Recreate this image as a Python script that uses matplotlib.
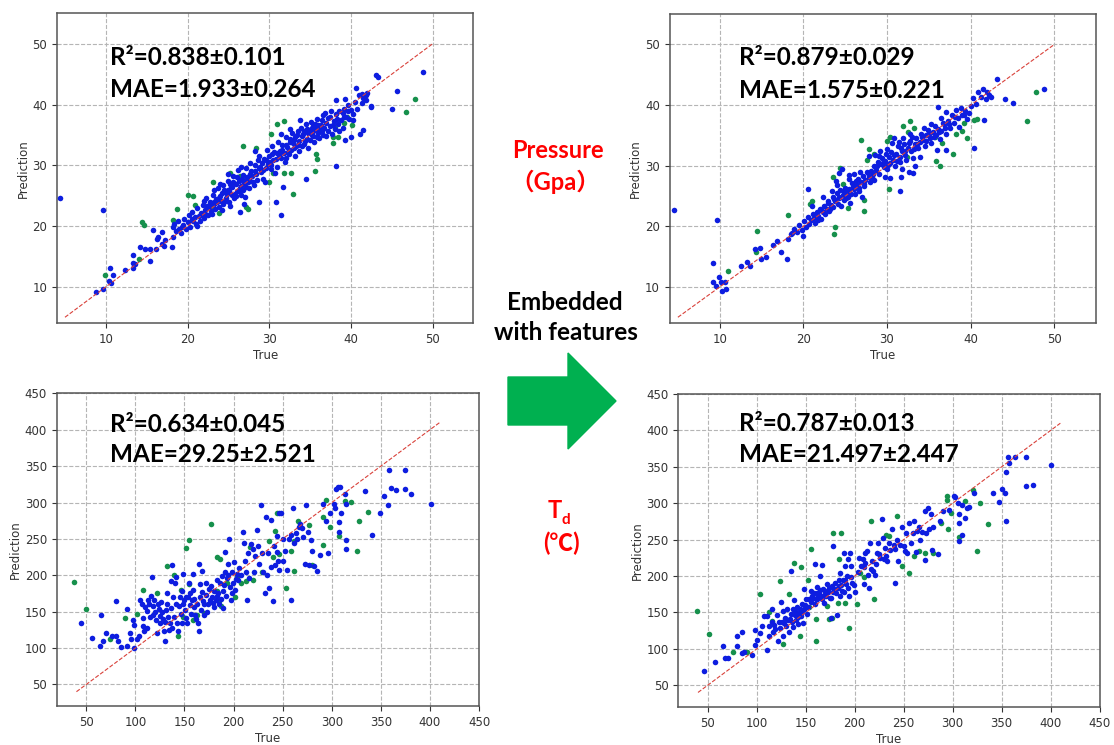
import numpy as np
import matplotlib.pyplot as plt
from matplotlib.patches import Polygon

plt.rcParams['font.family'] = ['DejaVu Sans']

BLUE = '#0d1de0'
GREEN = '#16904c'

# ---- pressure, baseline (top left) ----
tl_blue = [
    (4.4, 24.7), (9.6, 22.6), (8.8, 9.1), (9.7, 9.7), (10.5, 13.1), (10.4, 10.9), (10.9, 12.0), (10.6, 10.7),
    (12.4, 12.7), (13.3, 13.9), (13.3, 15.3), (13.6, 13.7), (13.3, 13.1), (14.2, 16.6), (14.8, 16.2), (15.4, 16.2),
    (15.4, 14.2), (15.8, 19.4), (16.4, 18.2), (16.3, 17.9), (16.1, 16.3), (16.9, 19.0), (16.9, 17.1), (17.1, 16.8),
    (17.3, 17.7), (18.1, 16.6), (18.2, 18.2),
    (43.1, 44.9), (43.3, 44.6), (48.8, 45.4), (45.6, 42.2), (45.0, 39.2), (42.4, 39.6), (40.6, 42.7), (41.4, 41.7),
    (41.9, 41.5), (41.5, 41.1), (39.3, 40.9), (38.2, 40.8), (41.5, 35.8), (41.1, 35.2), (40.0, 34.7), (39.3, 34.2),
    (38.2, 29.9), (34.5, 27.8), (31.7, 26.5), (31.5, 21.9), (30.8, 24.0), (28.8, 23.9), (26.4, 22.3), (25.2, 23.3),
    (18.2, 19.8), (18.4, 20.4), (18.6, 19.2), (18.8, 20.8), (19.0, 19.6), (19.2, 18.9), (19.4, 20.2), (19.6, 21.2),
    (19.8, 19.5), (20.0, 20.6), (20.2, 21.8), (20.3, 19.9), (20.5, 22.4), (20.7, 20.8), (20.9, 21.5), (21.0, 20.3),
    (21.2, 22.9), (21.4, 21.6), (21.5, 20.9), (21.7, 22.2), (21.9, 23.5), (22.0, 21.4), (22.2, 22.6), (22.3, 24.6),
    (22.5, 21.9), (22.6, 23.2), (22.8, 24.0), (22.9, 22.5), (23.1, 25.1), (23.2, 23.6), (23.4, 22.8), (23.5, 24.4),
    (23.7, 26.2), (23.8, 23.1), (24.0, 25.0), (24.1, 24.2), (24.3, 26.7), (24.4, 23.6), (24.6, 25.6), (24.7, 24.7),
    (24.9, 27.4), (25.0, 25.9), (25.1, 23.9), (25.3, 26.5), (25.4, 25.2), (25.6, 28.2), (25.7, 24.6), (25.9, 26.9),
    (26.0, 25.8), (26.2, 29.2), (26.3, 27.4), (26.5, 25.1), (26.6, 26.6), (26.8, 28.4), (26.9, 27.1), (27.0, 24.8),
    (27.2, 29.6), (27.3, 28.0), (27.5, 26.3), (27.6, 27.5), (27.8, 29.0), (27.9, 28.3), (28.1, 26.8), (28.2, 30.1),
    (28.4, 28.6), (28.5, 27.6), (28.7, 29.5), (28.8, 31.6), (29.0, 28.9), (29.1, 30.4), (29.3, 27.8), (29.4, 31.0),
    (29.6, 29.6), (29.7, 32.6), (29.9, 30.2), (30.0, 31.5), (30.2, 29.4), (30.3, 33.2), (30.5, 30.8), (30.6, 32.2),
    (30.8, 31.0), (31.0, 29.8), (31.1, 33.9), (31.3, 32.4), (31.4, 31.2), (31.6, 33.4), (31.8, 32.0), (31.9, 30.6),
    (32.1, 34.6), (32.2, 33.0), (32.4, 31.8), (32.5, 33.8), (32.7, 32.6), (32.8, 35.4), (33.0, 34.2), (33.1, 31.5),
    (33.3, 33.2), (33.4, 35.0), (33.6, 34.0), (33.7, 32.4), (33.9, 36.2), (34.0, 34.8), (34.2, 33.5), (34.3, 35.6),
    (34.5, 36.8), (34.6, 34.4), (34.8, 32.8), (34.9, 35.8), (35.1, 37.2), (35.2, 35.0), (35.4, 36.4), (35.5, 33.9),
    (35.7, 36.0), (35.8, 37.6), (36.0, 35.3), (36.1, 34.5), (36.3, 36.7), (36.4, 35.6), (36.6, 38.3), (36.7, 36.2),
    (36.9, 34.8), (37.0, 37.0), (37.2, 35.7), (37.4, 36.4), (37.5, 38.0), (37.7, 35.2), (37.9, 37.3), (38.0, 36.0),
    (38.2, 38.4), (38.4, 36.8), (38.6, 38.9), (38.8, 37.5), (39.0, 36.2), (39.2, 39.3), (39.4, 38.0), (39.6, 40.0),
    (39.8, 37.6), (40.0, 39.1), (40.3, 38.4), (40.5, 40.4), (40.8, 39.2), (41.0, 41.6), (41.3, 40.3), (41.6, 41.2),
    (41.8, 40.8), (42.0, 41.9), (42.5, 39.7),
    (24.5, 26.0), (25.2, 27.0), (25.8, 25.3), (26.4, 26.2), (26.7, 27.8), (27.1, 26.5), (24.8, 25.3), (25.5, 26.4),
    (26.1, 28.0), (23.9, 24.6), (27.4, 27.2), (28.0, 27.3), (28.6, 30.8), (29.2, 29.2), (30.1, 30.6), (30.4, 31.8),
    (31.2, 31.7), (32.0, 33.4), (32.3, 32.2), (32.9, 33.6), (33.2, 34.6), (33.5, 33.4), (34.1, 35.2), (34.4, 34.0),
    (34.7, 35.4), (35.0, 34.2), (35.3, 35.7), (35.6, 36.8), (35.9, 34.6), (36.2, 35.9), (36.5, 37.4), (22.4, 23.3),
    (21.6, 21.8), (23.0, 22.0), (20.6, 21.1), (19.3, 19.8), (27.7, 30.4), (28.3, 32.3), (31.5, 35.1), (32.6, 36.0),
    (33.8, 37.5), (36.8, 38.6), (37.6, 39.0), (38.5, 35.6), (39.1, 37.9), (40.2, 37.4), (30.7, 28.8), (29.5, 27.2),
    (26.9, 23.6), (24.2, 22.6),
    (22.1, 22.0), (22.7, 23.7), (23.3, 24.0), (23.6, 23.9), (24.2, 25.4), (24.6, 24.2), (25.1, 25.7), (25.6, 27.3),
    (25.9, 24.9), (26.3, 25.8), (26.8, 26.0), (27.3, 27.6), (27.6, 28.6), (28.2, 29.0), (28.9, 29.7), (29.6, 30.8),
    (30.2, 30.0), (30.9, 32.1), (31.6, 32.6), (32.1, 31.2), (32.6, 34.4), (33.0, 32.8), (33.5, 35.6), (34.0, 33.2),
    (34.6, 36.0), (35.2, 36.2), (35.4, 34.8), (36.0, 36.6), (36.6, 35.0), (37.2, 37.8), (37.8, 36.6), (38.3, 37.6),
    (39.0, 38.6), (39.6, 39.0), (24.0, 27.0), (25.0, 28.6), (26.5, 29.8), (23.3, 26.0), (22.0, 24.2), (21.2, 20.0),
]
tl_green = [
    (14.4, 20.6), (14.7, 20.1), (9.9, 12.0), (14.0, 14.6), (46.7, 38.7), (47.8, 40.9), (40.1, 36.6), (39.1, 37.0),
    (39.5, 38.0), (38.4, 34.7), (37.8, 33.7), (38.0, 36.2), (37.8, 34.7), (35.6, 29.0), (35.8, 31.0), (35.7, 31.9),
    (32.9, 25.3), (32.7, 28.7), (31.8, 28.8), (31.8, 37.3), (30.9, 36.8), (30.2, 35.1), (30.5, 28.7), (30.0, 27.3),
    (28.4, 32.8), (26.8, 33.2), (27.2, 23.2), (27.4, 22.8), (23.8, 22.1), (23.1, 27.2), (20.9, 23.5), (20.7, 25.0),
    (20.0, 25.2), (18.7, 22.8), (18.2, 21.0), (23.1, 23.0), (25.2, 28.7), (26.4, 28.3),
]

# ---- pressure, embedded with features (top right) ----
tr_blue = [
    (4.5, 22.7), (9.7, 21.1), (9.2, 14.0), (9.2, 10.8), (10.1, 10.8), (9.9, 11.6), (10.6, 10.9), (9.5, 10.1),
    (10.7, 9.7), (10.3, 9.4), (12.5, 13.4), (13.3, 14.1), (13.6, 13.5), (14.2, 16.3), (14.8, 16.5), (14.9, 14.6),
    (15.5, 14.9), (16.4, 16.9), (16.9, 17.5), (17.3, 15.7), (18.0, 14.6), (18.2, 17.9), (18.5, 18.7), (20.0, 18.4),
    (20.5, 26.2), (43.1, 44.3), (44.1, 41.0), (45.1, 40.3), (48.8, 42.6), (42.4, 41.3), (41.6, 37.5), (40.4, 32.9),
    (31.5, 25.8), (31.7, 28.1), (33.1, 28.8), (36.1, 39.7), (39.2, 38.4), (37.0, 32.6),
    (18.6, 18.9), (18.9, 19.6), (19.2, 19.0), (19.5, 20.2), (19.8, 19.4), (20.1, 20.8), (20.3, 19.9), (20.5, 21.5),
    (20.7, 20.4), (20.9, 21.1), (21.1, 22.0), (21.3, 21.3), (21.4, 20.6), (21.6, 22.4), (21.8, 21.7), (22.0, 22.8),
    (22.1, 21.2), (22.3, 22.3), (22.5, 23.4), (22.6, 22.0), (22.8, 22.9), (23.0, 24.2), (23.1, 22.6), (23.3, 23.6),
    (23.5, 24.8), (23.6, 23.2), (23.8, 24.1), (24.0, 25.5), (24.1, 23.7), (24.3, 24.6), (24.4, 26.0), (24.5, 23.3),
    (24.7, 25.2), (24.9, 24.4), (25.0, 26.4), (25.2, 25.6), (25.3, 24.9), (25.5, 26.2), (25.7, 25.4), (25.8, 27.2),
    (26.0, 26.1), (26.2, 25.3), (26.4, 26.8), (26.5, 27.8), (26.7, 26.3), (26.9, 27.3), (27.1, 28.3), (27.2, 26.6),
    (27.4, 27.7), (27.6, 29.0), (27.8, 28.2), (28.0, 27.3), (28.1, 29.2), (28.3, 28.6), (28.5, 30.0), (28.7, 29.3),
    (28.9, 30.6), (29.1, 28.7), (29.3, 30.2), (29.4, 31.3), (29.6, 29.8), (29.8, 30.8), (30.0, 29.4), (30.2, 31.4),
    (30.4, 30.5), (30.5, 32.3), (30.7, 31.0), (30.9, 29.9), (31.1, 32.0), (31.3, 33.2), (31.5, 31.4), (31.6, 30.6),
    (31.8, 32.5), (32.0, 33.6), (32.2, 31.8), (32.3, 30.9), (32.5, 33.0), (32.7, 34.0), (32.9, 32.4), (33.1, 31.3),
    (33.3, 33.5), (33.5, 34.6), (33.7, 32.9), (33.9, 33.9), (34.1, 35.2), (34.3, 34.2), (34.5, 33.3), (34.7, 35.0),
    (34.9, 35.9), (35.1, 34.6), (35.3, 33.8), (35.5, 35.5), (35.7, 36.5), (35.9, 35.0), (36.1, 36.1), (36.3, 34.4),
    (36.5, 35.8), (36.7, 37.0), (36.9, 36.3), (37.1, 35.3), (37.3, 37.4), (37.5, 36.2), (37.8, 38.4), (38.0, 37.1),
    (38.3, 39.2), (38.5, 37.8), (38.8, 39.6), (39.0, 38.3), (39.3, 39.0), (39.5, 37.7), (39.8, 38.7), (40.0, 39.9),
    (40.3, 41.1), (40.6, 40.2), (40.9, 42.2), (41.2, 41.4), (41.5, 42.6), (41.8, 41.0), (42.0, 42.1), (42.2, 41.6),
    (23.9, 27.4), (24.2, 28.8), (24.6, 29.4), (25.4, 28.4), (26.1, 28.6), (23.4, 25.8), (27.0, 24.9), (27.8, 31.6),
    (28.6, 31.8), (29.2, 32.5), (30.6, 33.8), (30.3, 27.9), (31.8, 29.5), (32.6, 28.9), (33.4, 30.0), (34.0, 31.5),
    (36.0, 32.6), (36.4, 37.8), (37.0, 38.8), (38.6, 36.4), (31.9, 34.5), (32.8, 35.2), (25.6, 23.8), (22.4, 24.9),
    (21.0, 23.4), (29.9, 32.0), (30.8, 34.6), (31.4, 33.9), (29.7, 28.2), (28.4, 27.6),
    (21.7, 21.0), (22.2, 22.6), (22.9, 23.8), (23.2, 22.9), (23.7, 24.5), (24.2, 24.9), (24.8, 25.8), (25.1, 24.6),
    (25.9, 26.6), (26.3, 27.4), (26.6, 25.8), (27.3, 27.0), (27.7, 28.8), (28.2, 28.1), (28.8, 29.9), (29.5, 30.5),
    (30.1, 30.1), (30.8, 31.8), (31.2, 30.7), (31.7, 33.0), (32.1, 32.4), (32.6, 33.8), (33.2, 32.7), (33.6, 33.5),
    (34.2, 34.7), (34.6, 34.0), (35.0, 35.3), (35.6, 34.8), (36.2, 35.6), (36.8, 36.9), (37.4, 36.8), (38.1, 38.0),
    (33.0, 34.8), (34.4, 36.2), (35.2, 36.8), (24.0, 26.8), (25.5, 27.8), (26.8, 28.9), (29.0, 31.6), (30.0, 32.8),
]
tr_green = [
    (14.5, 19.3), (14.3, 15.7), (11.0, 12.6), (18.2, 21.9), (21.0, 24.2), (20.8, 23.7), (23.7, 18.7), (23.8, 19.9),
    (25.3, 23.0), (27.3, 22.6), (27.3, 24.4), (23.6, 28.2), (24.4, 29.7), (24.7, 27.0), (26.9, 34.2), (27.6, 31.0),
    (27.9, 32.7), (28.5, 31.9), (30.2, 26.2), (30.0, 34.1), (30.3, 34.7), (31.9, 36.5), (32.7, 37.3), (33.2, 36.2),
    (32.5, 35.5), (32.4, 31.4), (35.8, 30.7), (36.3, 29.9), (35.7, 34.7), (36.6, 33.7), (37.9, 32.0), (38.2, 35.2),
    (39.0, 35.8), (39.6, 34.6), (39.2, 37.1), (40.7, 37.7), (40.4, 37.5), (46.7, 37.4), (47.8, 42.1),
]

# ---- Td, baseline (bottom left) ----
bl_blue = [
    (45, 134), (56, 114), (65, 145), (64, 103), (67, 109), (70, 120), (76, 117), (80, 117), (80, 164), (82, 109),
    (85, 102), (91, 153), (91, 103), (95, 120), (96, 112), (99, 100), (99, 132), (98, 138), (102, 113), (104, 116),
    (105, 166), (107, 161), (108, 141), (108, 130), (109, 124), (110, 156), (112, 151), (112, 127), (115, 143),
    (113, 166), (116, 171), (117, 198), (118, 158), (119, 166), (120, 150), (121, 138), (122, 121), (123, 161),
    (125, 144), (125, 134), (126, 163), (127, 150), (129, 124), (130, 110), (130, 136), (132, 175), (132, 161),
    (133, 143), (135, 134), (136, 155), (136, 192), (137, 214), (137, 127), (139, 142), (140, 189), (141, 161),
    (141, 198), (142, 134), (143, 124), (145, 170), (146, 147), (147, 134), (149, 161), (149, 202), (150, 166),
    (151, 152), (152, 141), (153, 135), (154, 170), (155, 189), (156, 159), (157, 147), (158, 166), (159, 202),
    (159, 180), (160, 157), (161, 146), (163, 161), (164, 134), (165, 123), (165, 216), (166, 170), (167, 152),
    (168, 206), (168, 177), (169, 164), (170, 146), (172, 189), (172, 173), (174, 161), (175, 181), (176, 166),
    (178, 170), (180, 179), (180, 156), (182, 166), (183, 193), (184, 175), (185, 161), (186, 189), (188, 199),
    (189, 155), (189, 179), (191, 204), (191, 232), (192, 171), (193, 196), (194, 216), (195, 250), (196, 184),
    (197, 166), (198, 204), (199, 189), (200, 218), (201, 180), (204, 202), (205, 193), (208, 200), (210, 260),
    (211, 244), (213, 204), (214, 166), (215, 231), (216, 196), (218, 243), (221, 204), (222, 227), (224, 262),
    (226, 216), (228, 296), (229, 231), (230, 204), (232, 175), (233, 280), (234, 200), (235, 231), (236, 182),
    (238, 276), (238, 211), (240, 164), (241, 240), (242, 214), (244, 254), (245, 220), (246, 285), (246, 207),
    (248, 286), (250, 250), (250, 220), (252, 234), (254, 207), (256, 250), (258, 166), (259, 256), (261, 293),
    (262, 245), (265, 250), (267, 266), (268, 270), (270, 265), (271, 253), (273, 216), (274, 296), (276, 260),
    (277, 214), (279, 248), (280, 234), (282, 213), (285, 206), (288, 228), (291, 298), (294, 275), (296, 231),
    (298, 286), (302, 298), (304, 319), (306, 321), (308, 321), (307, 273), (307, 260), (309, 286), (314, 312),
    (315, 298), (315, 236), (315, 248), (334, 316), (341, 255), (349, 285), (353, 309), (357, 297), (358, 344),
    (360, 320), (365, 317), (375, 344), (375, 319), (381, 312), (401, 298), (303, 293),
    (114, 160), (118, 145), (124, 153), (128, 140), (131, 152), (134, 125), (138, 170), (144, 158), (148, 178),
    (152, 170), (156, 175), (160, 168), (162, 140), (166, 188), (170, 160), (173, 150), (177, 185), (179, 162),
    (183, 172), (187, 168), (190, 186), (194, 200), (198, 176), (202, 195), (206, 210), (212, 220), (220, 236),
    (225, 240), (244, 232), (264, 258),
]
bl_green = [
    (38, 191), (50, 153), (74, 113), (89, 141), (102, 147), (108, 180), (122, 175), (132, 213), (139, 201),
    (143, 116), (146, 180), (149, 143), (152, 237), (155, 249), (155, 188), (159, 139), (163, 146), (170, 148),
    (177, 271), (183, 179), (185, 164), (187, 158), (183, 225), (186, 222), (193, 189), (201, 170), (204, 197),
    (208, 189), (213, 192), (217, 239), (220, 193), (229, 204), (236, 247), (240, 225), (242, 261), (244, 286),
    (246, 229), (253, 183), (259, 234), (262, 247), (262, 206), (266, 274), (277, 269), (280, 214), (291, 241),
    (291, 280), (294, 303), (298, 267), (307, 254), (314, 302), (320, 301), (326, 234), (328, 274), (337, 287),
]

# ---- Td, embedded with features (bottom right) ----
br_blue = [
    (46, 70), (57, 82), (66, 104), (68, 88), (71, 87), (80, 104), (80, 118), (85, 123), (87, 95), (85, 94),
    (95, 91), (98, 126), (98, 105), (100, 112), (103, 122), (105, 131), (107, 145), (110, 145), (110, 99),
    (112, 131), (113, 118), (116, 155), (116, 137), (117, 123), (119, 127), (121, 146), (122, 111), (123, 137),
    (125, 164), (126, 137), (127, 152), (127, 118), (129, 143), (130, 131), (131, 155), (133, 123), (134, 141),
    (135, 207), (136, 137), (137, 155), (138, 167), (139, 147), (140, 139), (141, 158), (142, 134), (143, 149),
    (144, 155), (145, 145), (146, 161), (147, 136), (148, 182), (148, 155), (150, 168), (151, 148), (153, 168),
    (155, 180), (155, 164), (156, 173), (158, 177), (159, 217), (160, 168), (161, 177), (161, 185), (162, 169),
    (164, 177), (165, 200), (166, 173), (167, 215), (168, 182), (169, 163), (170, 180), (171, 173), (172, 189),
    (173, 178), (175, 170), (176, 143), (177, 186), (178, 241), (178, 178), (180, 191), (182, 147), (183, 183),
    (184, 195), (185, 173), (185, 204), (186, 187), (188, 195), (189, 178), (189, 232), (190, 214), (191, 189),
    (192, 200), (193, 224), (194, 173), (195, 232), (196, 214), (197, 191), (199, 187), (200, 178), (204, 225),
    (206, 214), (208, 223), (210, 189), (211, 232), (211, 218), (213, 235), (214, 202), (215, 184), (216, 246),
    (217, 209), (219, 207), (221, 202), (222, 216), (223, 232), (224, 246), (226, 225), (228, 279), (229, 252),
    (230, 223), (231, 239), (232, 227), (233, 221), (235, 246), (236, 236), (238, 264), (240, 243), (241, 191),
    (241, 237), (243, 250), (244, 221), (246, 243), (248, 268), (250, 241), (251, 234), (252, 259), (253, 232),
    (255, 273), (257, 246), (260, 259), (261, 275), (263, 233), (264, 262), (266, 268), (267, 250), (269, 260),
    (272, 222), (272, 290), (273, 259), (275, 294), (276, 264), (278, 285), (279, 236), (280, 268), (285, 230),
    (287, 275), (290, 289), (296, 291), (301, 310), (302, 308), (305, 301), (306, 248), (307, 273), (307, 285),
    (310, 256), (310, 298), (313, 280), (315, 294), (317, 295), (322, 314), (341, 314), (347, 302), (350, 320),
    (353, 314), (354, 343), (354, 275), (358, 356), (357, 364), (364, 364), (375, 364), (375, 324), (382, 325),
    (400, 353),
    (118, 133), (124, 128), (128, 136), (132, 140), (135, 148), (137, 130), (139, 152), (142, 144), (146, 150),
    (149, 160), (152, 157), (157, 170), (159, 162), (163, 172), (165, 181), (167, 168), (170, 175), (174, 184),
    (176, 170), (179, 182), (181, 176), (184, 186), (187, 180), (190, 194), (193, 184), (196, 198), (203, 205),
    (209, 213), (218, 220), (225, 230),
]
br_green = [
    (39, 152), (51, 121), (76, 96), (90, 95), (103, 175), (112, 151), (116, 138), (124, 193), (127, 106),
    (133, 175), (138, 218), (145, 213), (144, 118), (152, 194), (155, 237), (153, 158), (160, 111), (160, 141),
    (172, 159), (174, 141), (177, 142), (178, 259), (186, 259), (184, 224), (183, 163), (190, 163), (194, 129),
    (202, 161), (205, 204), (209, 198), (217, 275), (220, 169), (232, 256), (235, 255), (243, 283), (248, 214),
    (255, 204), (261, 227), (266, 234), (272, 232), (280, 232), (288, 273), (294, 310), (295, 264), (298, 286),
    (306, 254), (313, 303), (321, 318), (325, 234), (328, 300), (336, 271), (294, 305),
]

p_ticks = [10, 20, 30, 40, 50]
t_ticks = [50, 100, 150, 200, 250, 300, 350, 400, 450]

panels = [
    # rect, blue, green, limits, ticks, diagonal, lines, text position
    ([0.051, 0.566, 0.374, 0.416], tl_blue, tl_green, (4, 55), p_ticks, (5, 50),
     ['R²=0.838±0.101', 'MAE=1.933±0.264'], (0.127, 0.832, 0.73)),
    ([0.601, 0.566, 0.383, 0.415], tr_blue, tr_green, (4, 55), p_ticks, (5, 50),
     ['R²=0.879±0.029', 'MAE=1.575±0.221'], (0.162, 0.835, 0.729)),
    ([0.051, 0.052, 0.379, 0.420], bl_blue, bl_green, (20, 450), t_ticks, (40, 410),
     ['R²=0.634±0.045', 'MAE=29.25±2.521'], (0.126, 0.876, 0.781)),
    ([0.609, 0.051, 0.378, 0.420], br_blue, br_green, (20, 450), t_ticks, (40, 410),
     ['R²=0.787±0.013', 'MAE=21.497±2.447'], (0.143, 0.882, 0.784)),
]

fig = plt.figure(figsize=(11.14, 7.45), dpi=100)

for rect, blue, green, lims, ticks, diag, lines, tp in panels:
    ax = fig.add_axes(rect)
    b = np.array(blue)
    g = np.array(green)
    ax.scatter(g[:, 0], g[:, 1], s=16, c=GREEN, linewidths=0, zorder=3)
    ax.scatter(b[:, 0], b[:, 1], s=16, c=BLUE, linewidths=0, zorder=3)
    ax.plot(diag, diag, '--', color='#d9413a', lw=0.8, zorder=4)
    ax.set_xlim(lims)
    ax.set_ylim(lims)
    ax.set_xticks(ticks)
    ax.set_yticks(ticks)
    ax.grid(True, ls='--', color='#b5b5b5', lw=0.8)
    ax.set_axisbelow(True)
    ax.tick_params(labelsize=8.5, colors='#333333')
    for sp in ax.spines.values():
        sp.set_color('#555555')
        sp.set_linewidth(1.1)
    ax.set_xlabel('True', fontsize=8.5, color='#333333', labelpad=2)
    ax.set_ylabel('Prediction', fontsize=8.5, color='#333333', labelpad=2)
    ax.text(tp[0], tp[1], lines[0], transform=ax.transAxes, fontsize=17.5, fontweight='bold',
            family=['Lato', 'DejaVu Sans'], zorder=5)
    ax.text(tp[0], tp[2], lines[1], transform=ax.transAxes, fontsize=17.5, fontweight='bold',
            family=['Lato', 'DejaVu Sans'], zorder=5)

W, H = 1114, 745
def fx(px):
    return px / W
def fy(py):
    return 1 - py / H

cjk = ['Lato', 'Noto Sans CJK SC', 'DejaVu Sans']
fig.text(fx(558), fy(150), 'Pressure', color='red', fontsize=17, fontweight='bold',
         ha='center', va='center', family=cjk)
fig.text(fx(555), fy(182), '（Gpa）', color='red', fontsize=17, fontweight='bold',
         ha='center', va='center', family=cjk)
fig.text(fx(565), fy(302), 'Embedded', color='black', fontsize=17.5, fontweight='bold',
         ha='center', va='center', family=cjk)
fig.text(fx(566), fy(333), 'with features', color='black', fontsize=17.5, fontweight='bold',
         ha='center', va='center', family=cjk)
fig.text(fx(555), fy(511), 'T', color='red', fontsize=17, fontweight='bold',
         ha='center', va='center', family=cjk)
fig.text(fx(566), fy(520), 'd', color='red', fontsize=11, fontweight='bold',
         ha='center', va='center', family=cjk)
fig.text(fx(561), fy(543), '(℃)', color='red', fontsize=17, fontweight='bold',
         ha='center', va='center', family=cjk)

arrow = [(508, 377), (568, 377), (568, 353), (616, 401), (568, 449), (568, 425), (508, 425)]
fig.add_artist(Polygon([(fx(x), fy(y)) for x, y in arrow], closed=True, color='#00b050',
                       transform=fig.transFigure))

fig.savefig('out.png', dpi=100)
